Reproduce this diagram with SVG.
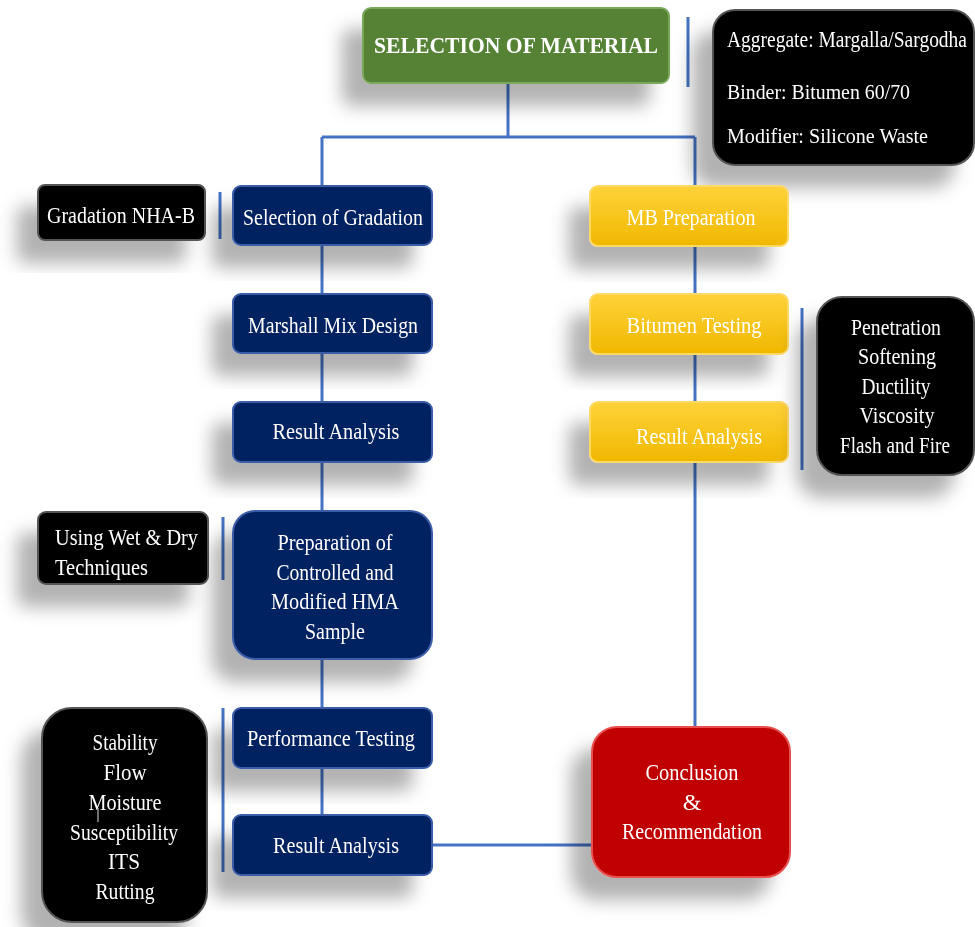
<svg xmlns="http://www.w3.org/2000/svg" width="975" height="927" viewBox="0 0 975 927">
<style>
.t{font-family:"Liberation Serif","Times New Roman",serif;font-size:24px;fill:#fff}
.c{text-anchor:middle}
.s{font-size:21px}
.conn{stroke:#4472C4;stroke-width:3;fill:none}
.navy{fill:#002060;stroke:#3a5da8;stroke-width:2}
.blk{fill:#000;stroke:#555;stroke-width:2}
.yel{fill:url(#yg);stroke:#ffd966;stroke-width:2}
</style>
<defs>
<filter id="sh" x="-40%" y="-40%" width="180%" height="200%">
<feDropShadow dx="-20" dy="22" stdDeviation="9" flood-color="#000" flood-opacity="0.3"/>
</filter>
<linearGradient id="yg" x1="0" y1="0" x2="0" y2="1">
<stop offset="0" stop-color="#ffd23a"/>
<stop offset="1" stop-color="#f0b800"/>
</linearGradient>
</defs>
<rect width="975" height="927" fill="#fff"/>

<g id="connectors">
<path class="conn" d="M508 83V137M322 137H695M322 137V186M695 137V186"/>
<path class="conn" d="M322 245V294M322 353V402M322 462V511M322 659V708M322 768V815"/>
<path class="conn" d="M695 246V294M695 354V402M695 462V727"/>
<path class="conn" d="M432 845H592"/>
<path class="conn" d="M688 17V87M220 192V239M223 517V580M223 708V872M802 308V470"/>
</g>

<g id="selection-of-material" filter="url(#sh)">
<rect x="363" y="8" width="306" height="75" rx="8" fill="#548235" stroke="#7aa85a" stroke-width="2"/>
<text class="t c" x="516" y="53" font-weight="bold" font-size="27" textLength="284" lengthAdjust="spacingAndGlyphs">SELECTION OF MATERIAL</text>
</g>

<g id="materials" filter="url(#sh)">
<rect class="blk" x="713" y="10" width="261" height="155" rx="22"/>
<text class="t" x="727" y="47" font-size="19.5" textLength="240" lengthAdjust="spacingAndGlyphs">Aggregate: Margalla/Sargodha</text>
<text class="t s" x="727" y="99" textLength="183" lengthAdjust="spacingAndGlyphs">Binder: Bitumen 60/70</text>
<text class="t s" x="727" y="143" textLength="201" lengthAdjust="spacingAndGlyphs">Modifier: Silicone Waste</text>
</g>

<g id="gradation-nha-b" filter="url(#sh)">
<rect class="blk" x="38" y="185" width="167" height="55" rx="7"/>
<text class="t c" x="121" y="223" textLength="148" lengthAdjust="spacingAndGlyphs">Gradation NHA-B</text>
</g>

<g id="selection-of-gradation" filter="url(#sh)">
<rect class="navy" x="233" y="186" width="199" height="59" rx="8"/>
<text class="t c" x="333" y="225" textLength="180" lengthAdjust="spacingAndGlyphs">Selection of Gradation</text>
</g>

<g id="marshall-mix-design" filter="url(#sh)">
<rect class="navy" x="233" y="294" width="199" height="59" rx="8"/>
<text class="t c" x="333" y="333" textLength="170" lengthAdjust="spacingAndGlyphs">Marshall Mix Design</text>
</g>

<g id="result-analysis-1" filter="url(#sh)">
<rect class="navy" x="233" y="402" width="199" height="60" rx="8"/>
<text class="t c" x="336" y="439" textLength="127" lengthAdjust="spacingAndGlyphs">Result Analysis</text>
</g>

<g id="wet-dry" filter="url(#sh)">
<rect class="blk" x="38" y="512" width="170" height="72" rx="8"/>
<text class="t" x="55" y="545" textLength="143" lengthAdjust="spacingAndGlyphs">Using Wet &amp; Dry</text>
<text class="t" x="55" y="575" textLength="93" lengthAdjust="spacingAndGlyphs">Techniques</text>
</g>

<g id="preparation" filter="url(#sh)">
<rect class="navy" x="233" y="511" width="199" height="148" rx="22"/>
<text class="t c" x="335" y="550" textLength="115" lengthAdjust="spacingAndGlyphs">Preparation of</text>
<text class="t c" x="335" y="580" textLength="117" lengthAdjust="spacingAndGlyphs">Controlled and</text>
<text class="t c" x="335" y="609" textLength="128" lengthAdjust="spacingAndGlyphs">Modified HMA</text>
<text class="t c" x="335" y="639" textLength="60" lengthAdjust="spacingAndGlyphs">Sample</text>
</g>

<g id="performance-tests" filter="url(#sh)">
<rect class="blk" x="42" y="708" width="165" height="214" rx="30"/>
<text class="t c" x="125" y="750" textLength="65" lengthAdjust="spacingAndGlyphs">Stability</text>
<text class="t c" x="125" y="780" textLength="43" lengthAdjust="spacingAndGlyphs">Flow</text>
<text class="t c" x="125" y="810" textLength="73" lengthAdjust="spacingAndGlyphs">Moisture</text>
<text class="t c" x="124" y="840" textLength="108" lengthAdjust="spacingAndGlyphs">Susceptibility</text>
<text class="t c" x="124" y="869" textLength="32" lengthAdjust="spacingAndGlyphs">ITS</text>
<text class="t c" x="125" y="899" textLength="59" lengthAdjust="spacingAndGlyphs">Rutting</text>
<line x1="98" y1="808" x2="98" y2="822" stroke="#ddd" stroke-width="1"/>
</g>

<g id="performance-testing" filter="url(#sh)">
<rect class="navy" x="233" y="708" width="199" height="60" rx="8"/>
<text class="t c" x="331" y="746" textLength="168" lengthAdjust="spacingAndGlyphs">Performance Testing</text>
</g>

<g id="result-analysis-2" filter="url(#sh)">
<rect class="navy" x="233" y="815" width="199" height="60" rx="8"/>
<text class="t c" x="336" y="853" textLength="126" lengthAdjust="spacingAndGlyphs">Result Analysis</text>
</g>

<g id="mb-preparation" filter="url(#sh)">
<rect class="yel" x="590" y="186" width="198" height="60" rx="8"/>
<text class="t c" x="691" y="225" textLength="129" lengthAdjust="spacingAndGlyphs">MB Preparation</text>
</g>

<g id="bitumen-testing" filter="url(#sh)">
<rect class="yel" x="590" y="294" width="198" height="60" rx="8"/>
<text class="t c" x="694" y="333" textLength="135" lengthAdjust="spacingAndGlyphs">Bitumen Testing</text>
</g>

<g id="result-analysis-3" filter="url(#sh)">
<rect class="yel" x="590" y="402" width="198" height="60" rx="8"/>
<text class="t c" x="699" y="444" textLength="126" lengthAdjust="spacingAndGlyphs">Result Analysis</text>
</g>

<g id="bitumen-tests" filter="url(#sh)">
<rect class="blk" x="817" y="297" width="157" height="178" rx="25"/>
<text class="t c" x="896" y="335" textLength="90" lengthAdjust="spacingAndGlyphs">Penetration</text>
<text class="t c" x="897" y="364" textLength="78" lengthAdjust="spacingAndGlyphs">Softening</text>
<text class="t c" x="896" y="394" textLength="69" lengthAdjust="spacingAndGlyphs">Ductility</text>
<text class="t c" x="897" y="423" textLength="75" lengthAdjust="spacingAndGlyphs">Viscosity</text>
<text class="t c" x="895" y="453" font-size="21" textLength="110" lengthAdjust="spacingAndGlyphs">Flash and Fire</text>
</g>

<g id="conclusion" filter="url(#sh)">
<rect x="592" y="727" width="198" height="150" rx="25" fill="#C00000" stroke="#e85050" stroke-width="2"/>
<text class="t c" x="692" y="780" textLength="93" lengthAdjust="spacingAndGlyphs">Conclusion</text>
<text class="t c" x="692" y="810">&amp;</text>
<text class="t c" x="692" y="839" textLength="140" lengthAdjust="spacingAndGlyphs">Recommendation</text>
</g>
</svg>
